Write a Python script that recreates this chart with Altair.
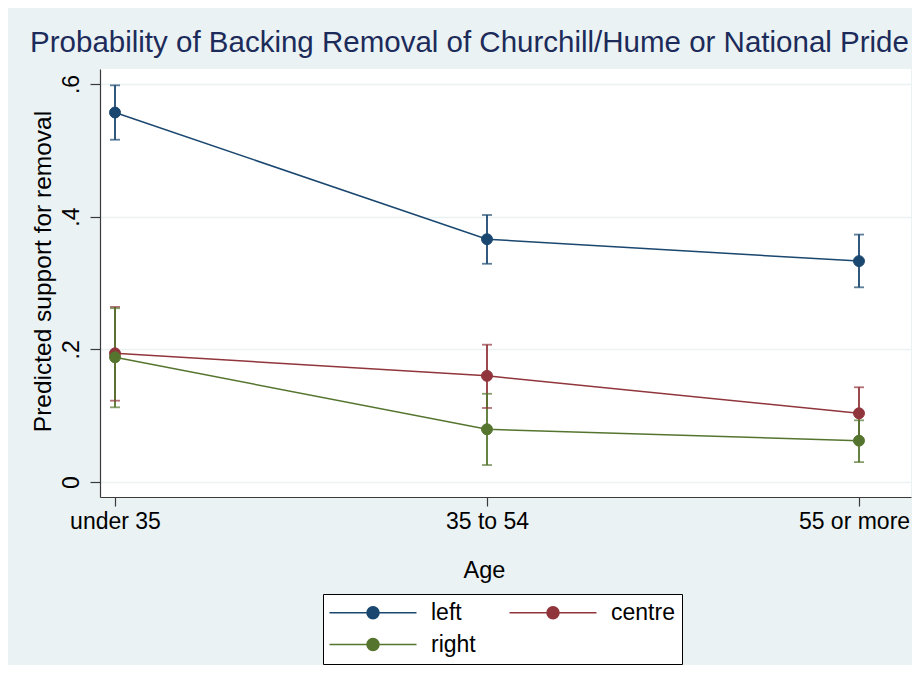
import altair as alt
import pandas as pd

# ---- data ----
ages = ["under 35", "35 to 54", "55 or more"]
groups = ["left", "centre", "right"]
colors = ["#1a476f", "#90353b", "#55752f"]

left_est = [0.557, 0.366, 0.333]
left_lo = [0.516, 0.329, 0.2935]
left_hi = [0.598, 0.4025, 0.373]

centre_est = [0.194, 0.160, 0.1036]
centre_lo = [0.1226, 0.1116, 0.064]
centre_hi = [0.264, 0.207, 0.1428]

right_est = [0.188, 0.0795, 0.0623]
right_lo = [0.1126, 0.0256, 0.030]
right_hi = [0.262, 0.133, 0.093]

y_ticks = [0, 0.2, 0.4, 0.6]

rows = []
for g, est, lo, hi in [("left", left_est, left_lo, left_hi),
                       ("centre", centre_est, centre_lo, centre_hi),
                       ("right", right_est, right_lo, right_hi)]:
    for i, a in enumerate(ages):
        rows.append({"group": g, "age": a, "xi": i + 1,
                     "est": est[i], "lo": lo[i], "hi": hi[i]})
df = pd.DataFrame(rows)

FONT = "Liberation Sans"
label_js = "[" + ",".join("'" + a + "'" for a in ages) + "]"

x_enc = alt.X("xi:Q",
              scale=alt.Scale(domain=[0.95968, 3.1398], nice=False, zero=False),
              axis=alt.Axis(values=[1, 2, 3],
                            labelExpr=label_js + "[datum.value-1]",
                            title="Age", grid=False,
                            tickSize=9, labelPadding=22,
                            labelOffset={"condition": {"test": "datum.value == 3", "value": -5}, "value": 0},
                            labelBaseline="alphabetic", labelAlign="center",
                            labelFontSize=23, titleFontSize=23.5,
                            titleX=384, titleY=80, titleBaseline="alphabetic",
                            titleAlign="center"))
y_scale = alt.Scale(domain=[-0.0226, 0.6226], nice=False, zero=False)
y_axis = alt.Axis(values=y_ticks,
                  labelExpr="datum.value == 0 ? '0' : replace(format(datum.value, '.1f'), '0.', '.')",
                  title="Predicted support for removal",
                  grid=True, gridColor="#eaf2f3", gridWidth=1.5,
                  tickSize=10, labelPadding=12,
                  labelAngle=270, labelAlign="center", labelBaseline="alphabetic",
                  labelFontSize=23, titleFontSize=24.5,
                  titleAngle=270, titleX=-50, titleY=202,
                  titleBaseline="alphabetic", titleAlign="center")

col_scale = alt.Scale(domain=groups, range=colors)
# same mapping, listed in reverse so that this guide-less scale stays separate
col_scale_rev = alt.Scale(domain=groups[::-1], range=colors[::-1])

base = alt.Chart(df)

rules = base.mark_rule(strokeWidth=1.8).encode(
    x=x_enc,
    y=alt.Y("lo:Q", scale=y_scale, axis=y_axis),
    y2="hi:Q",
    color=alt.Color("group:N", scale=col_scale_rev, legend=None),
)

caps = base.transform_fold(["lo", "hi"], as_=["kind", "val"]).mark_tick(
    orient="horizontal", size=10, thickness=1.8
).encode(
    x=x_enc,
    y=alt.Y("val:Q", scale=y_scale, axis=y_axis),
    color=alt.Color("group:N", scale=col_scale_rev, legend=None),
)

lines = base.mark_line(strokeWidth=1.5).encode(
    x=x_enc,
    y=alt.Y("est:Q", scale=y_scale, axis=y_axis),
    color=alt.Color("group:N", scale=col_scale_rev, legend=None),
    detail="group:N",
)

# legend key: a 87px line with a 12px dot in its middle (units of 6px)
sym = ("M-2,0L12.5,0M6.25,0A1,1,0,1,1,4.25,0A1,1,0,1,1,6.25,0Z")
leg = alt.Legend(title=None, orient="none", legendX=223, legendY=525,
                 columns=2, direction="horizontal",
                 strokeColor="#000000", fillColor="#ffffff", padding=7,
                 labelFontSize=23, labelFont=FONT, labelColor="#000000",
                 labelOffset=78, labelLimit=300,
                 symbolType=sym, symbolSize=144, symbolStrokeWidth=1.5,
                 symbolOpacity=1, rowPadding=8, columnPadding=30)

points = base.mark_point(filled=True, size=120, opacity=1, strokeWidth=1).encode(
    x=x_enc,
    y=alt.Y("est:Q", scale=y_scale, axis=y_axis),
    fill=alt.Fill("group:N", scale=col_scale, legend=leg),
    stroke=alt.Stroke("group:N", scale=col_scale, legend=leg),
)

chart = alt.layer(rules, caps, lines, points).properties(
    width=811, height=428,
    autosize=alt.AutoSizeParams(type="none"),
    padding={"left": 92, "top": 61, "right": 1, "bottom": 168},
    background="#eaf2f3",
    title=alt.TitleParams(
        "Probability of Backing Removal of Churchill/Hume or National Pride",
        fontSize=29.5, font=FONT, fontWeight="normal", color="#1c2b5a",
        anchor="middle", baseline="alphabetic", offset=17, dx=-36, dy=29),
).configure_view(
    stroke=None, fill="white"
).configure_axis(
    labelFont=FONT, titleFont=FONT, labelColor="#000000", titleColor="#000000",
    titleFontWeight="normal", domainColor="#3a3a3a", tickColor="#3a3a3a",
    domainWidth=1.2, tickWidth=1.2
)

chart.save("out.html", embed_options={"renderer": "svg", "actions": False})
